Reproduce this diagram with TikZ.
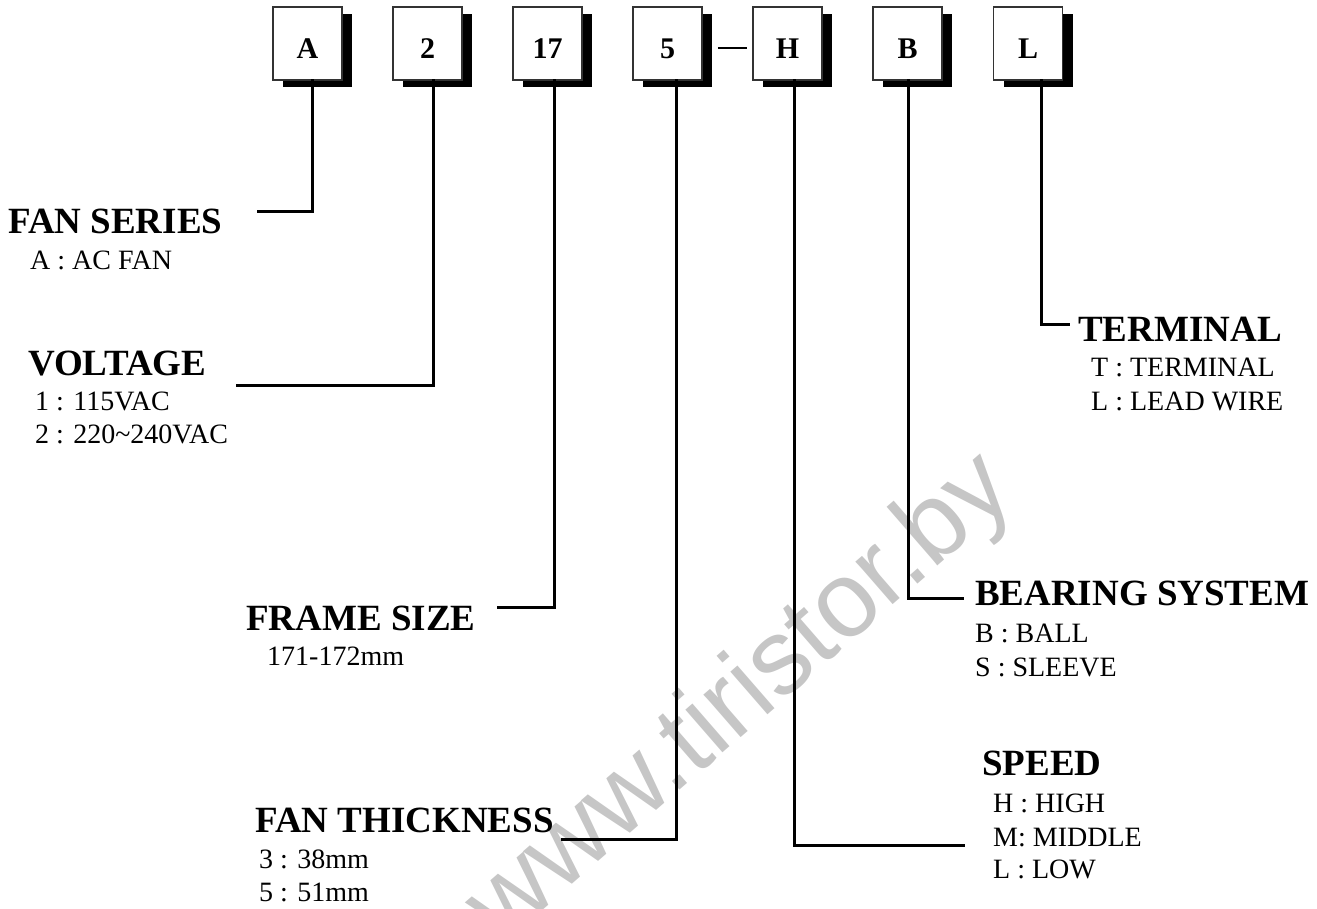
\documentclass[tikz,border=0pt]{standalone}
\usepackage{fontspec}
\setmainfont{Liberation Serif}
\setsansfont{Liberation Sans}
\usetikzlibrary{shadows}
\begin{document}
\begin{tikzpicture}[x=1pt,y=-1pt,
  fbox/.style={draw=black!80,line width=1.5pt,fill=white,minimum width=69pt,minimum height=73pt,
    inner sep=0pt,font=\fontsize{30}{32}\selectfont\bfseries,text height=29.3pt,text depth=0pt,
    general shadow={fill=black,shadow xshift=10pt,shadow yshift=-7pt}},
  conn/.style={line width=3pt,line cap=rect},
  head/.style={anchor=base west,inner sep=0pt,font=\fontsize{37}{40}\selectfont\bfseries},
  sub/.style={anchor=base west,inner sep=0pt,font=\fontsize{28}{30}\selectfont},
  wmark/.style={rotate=41,font=\fontsize{107}{107}\selectfont\sffamily,text=gray!45}]
\useasboundingbox (0,0) rectangle (1317,908);
\node[wmark] (wm) at (742,700) {www.tiristor.by};
% boxes
\node[fbox] (bA) at (307.5,43.5) {A};
\node[fbox] (b2) at (427.5,43.5) {2};
\node[fbox] (b17) at (547.5,43.5) {17};
\node[fbox] (b5) at (667.5,43.5) {5};
\node[fbox] (bH) at (787.5,43.5) {H};
\node[fbox] (bB) at (907.5,43.5) {B};
\node[fbox] (bL) at (1028,43.5) {L};
\draw[line width=2pt] ([xshift=15pt,yshift=-4.5pt]b5.east) -- ([xshift=-5pt,yshift=-4.5pt]bH.west);
% end coordinates
\coordinate (eA) at (258,211);
\coordinate (e2) at (237,385);
\coordinate (e17) at (498,607);
\coordinate (e5) at (562,839);
\coordinate (eH) at (963,845);
\coordinate (eB) at (962,598);
\coordinate (eL) at (1068,324);
% connectors
\draw[conn] ([xshift=4.5pt]bA.south) |- (eA);
\draw[conn] ([xshift=5.5pt]b2.south) |- (e2);
\draw[conn] ([xshift=6.5pt]b17.south) |- (e17);
\draw[conn] ([xshift=9pt]b5.south) |- (e5);
\draw[conn] ([xshift=7pt]bH.south) |- (eH);
\draw[conn] ([xshift=0.5pt]bB.south) |- (eB);
\draw[conn] ([xshift=13pt]bL.south) |- (eL);
% labels
\node[head] (tA) at (8,233) {FAN SERIES};
\node[sub] (dA1) at (30,269) {A :\ AC FAN};
\node[head] (t2) at (28,375) {VOLTAGE};
\node[sub] (d21) at (35,410) {1 : 115VAC};
\node[sub] (d22) at (35,443) {2 : 220\textasciitilde240VAC};
\node[head] (t17) at (246,630) {FRAME SIZE};
\node[sub] (d171) at (267,665) {171-172mm};
\node[head] (t5) at (255,832) {FAN THICKNESS};
\node[sub] (d51) at (259,868) {3 : 38mm};
\node[sub] (d52) at (259,901) {5 : 51mm};
\node[head] (tB) at (975,605) {BEARING SYSTEM};
\node[sub] (dB1) at (975,642) {B : BALL};
\node[sub] (dB2) at (975,676) {S : SLEEVE};
\node[head] (tH) at (982,775) {SPEED};
\node[sub] (dH1) at (993,812) {H : HIGH};
\node[sub] (dH2) at (993,846) {M: MIDDLE};
\node[sub] (dH3) at (993,878) {L : LOW};
\node[head] (tL) at (1078,341) {TERMINAL};
\node[sub] (dL1) at (1091,376) {T : TERMINAL};
\node[sub] (dL2) at (1091,410) {L : LEAD WIRE};
\end{tikzpicture}
\end{document}
